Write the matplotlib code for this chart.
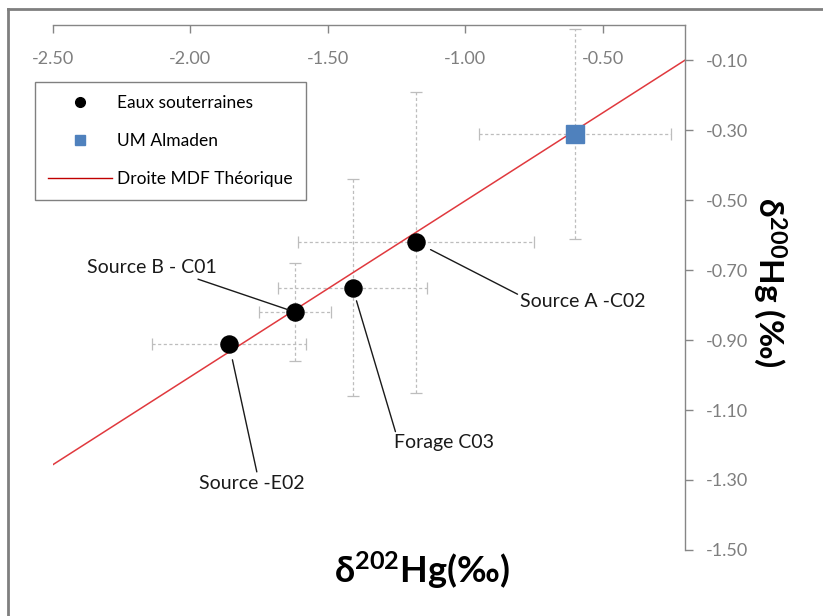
import numpy as np
import matplotlib.pyplot as plt
from matplotlib.lines import Line2D

plt.rcParams['font.family'] = ['Lato', 'DejaVu Sans']
plt.rcParams['mathtext.default'] = 'regular'

# eaux souterraines
names = ['Source -E02', 'Source B - C01', 'Forage C03', 'Source A -C02']
d202 = [-1.86, -1.62, -1.41, -1.18]
d200 = [-0.91, -0.82, -0.75, -0.62]
d202_err = [0.28, 0.13, 0.27, 0.43]
d200_err = [0.0, 0.14, 0.31, 0.43]

# UM Almaden
alm_202 = [-0.60]
alm_200 = [-0.31]
alm_202_err = [0.35]
alm_200_err = [0.30]

# droite MDF theorique
mdf_slope = 0.5024
mdf_x = np.array([-2.5, -0.2])

W, H = 823, 616
fig = plt.figure(figsize=(W / 100, H / 100), dpi=100)
ax = fig.add_axes([53 / W, 1 - 550 / H, 632 / W, 525 / H])

gray = '#868686'
eb = ax.errorbar(d202, d200, xerr=d202_err, yerr=d200_err, fmt='none',
                 ecolor='#bdbdbd', elinewidth=0.9, capsize=4, capthick=0.9, zorder=1)
for lc in eb[2]:
    lc.set_linestyle((0, (2.5, 2)))
eb2 = ax.errorbar(alm_202, alm_200, xerr=alm_202_err, yerr=alm_200_err, fmt='none',
                  ecolor='#bdbdbd', elinewidth=0.9, capsize=4, capthick=0.9, zorder=1)
for lc in eb2[2]:
    lc.set_linestyle((0, (2.5, 2)))

ax.plot(mdf_x, mdf_slope * mdf_x, color='#e0393e', lw=1.1, zorder=2)
ax.plot(d202, d200, 'o', color='black', ms=12.3, zorder=3)
ax.plot(alm_202, alm_200, 's', color='#4f81bd', ms=12.5, zorder=3)

ax.set_xlim(-2.5, -0.2)
ax.set_ylim(-1.5, 0)
ax.set_xticks([-2.5, -2.0, -1.5, -1.0, -0.5])
ax.set_yticks(np.arange(-1.5, -0.05, 0.2))
ax.xaxis.set_major_formatter(plt.FormatStrFormatter('%.2f'))
ax.yaxis.set_major_formatter(plt.FormatStrFormatter('%.2f'))

for s in ['left', 'bottom']:
    ax.spines[s].set_visible(False)
for s in ['top', 'right']:
    ax.spines[s].set_color(gray)
    ax.spines[s].set_linewidth(1)

ax.xaxis.set_ticks_position('top')
ax.yaxis.set_ticks_position('right')
ax.tick_params(axis='x', direction='in', length=6, width=1, color=gray,
               labelcolor='#7f7f7f', labelsize=13, pad=-30)
ax.tick_params(axis='y', direction='out', length=6, width=1, color=gray,
               labelcolor='#7f7f7f', labelsize=13, pad=9)

# etiquettes des points
label_xy = [(-1.776, -1.309), (-2.14, -0.694), (-1.077, -1.194), (-0.571, -0.789)]
rel = [(0.55, 1.05), (0.85, -0.15), (0.02, 1.05), (-0.02, 0.9)]
shr = [12, 5, 10, 12]
for i in range(len(names)):
    ax.annotate(names[i], xy=(d202[i], d200[i]), xytext=label_xy[i],
                ha='center', va='center', fontsize=14, color='#1a1a1a',
                arrowprops=dict(arrowstyle='-', color='#1a1a1a', lw=1,
                                relpos=rel[i], shrinkA=0, shrinkB=shr[i]))

handles = [Line2D([], [], marker='o', color='black', ls='none', ms=7),
           Line2D([], [], marker='s', color='#4f81bd', ls='none', ms=7),
           Line2D([], [], color='#c00000', lw=1)]
leg = ax.legend(handles, ['Eaux souterraines', 'UM Almaden', 'Droite MDF Théorique'],
                loc='upper left', bbox_to_anchor=(35 / W, 1 - 82 / H),
                bbox_transform=fig.transFigure, borderaxespad=0, fancybox=False,
                edgecolor='#808080', framealpha=1, fontsize=12.5, handlelength=3.7,
                handletextpad=0.3, labelspacing=1.28, borderpad=0.75)
leg.get_frame().set_linewidth(1)

fig.text(422 / W, 1 - 570 / H, 'δ$^{202}$Hg(‰)', ha='center', va='center',
         fontsize=26, fontweight='bold')
fig.text(770 / W, 1 - 282 / H, 'δ$^{200}$Hg (‰)', ha='center', va='center',
         fontsize=24, fontweight='bold', rotation=270)

# cadre
fig.add_artist(Line2D([8 / W, 8 / W], [0, 1 - 9 / H], color='#7f7f7f', lw=2))
fig.add_artist(Line2D([8 / W, 1], [1 - 9 / H, 1 - 9 / H], color='#7f7f7f', lw=2))

fig.savefig('out.png', dpi=100)
